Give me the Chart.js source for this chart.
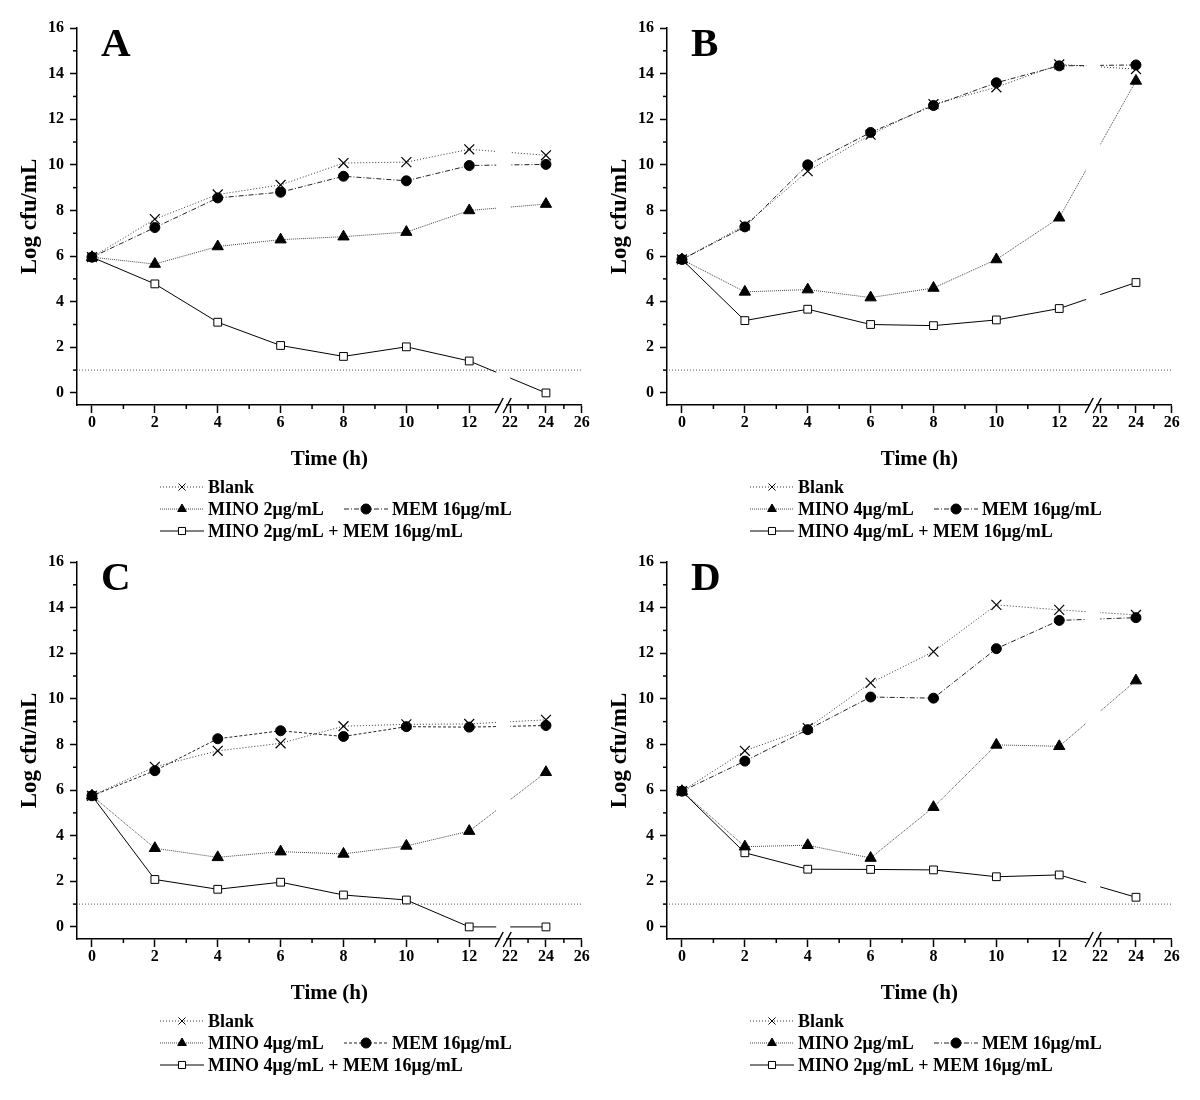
<!DOCTYPE html>
<html>
<head>
<meta charset="utf-8">
<script src="https://cdn.jsdelivr.net/npm/chart.js@4.4.1/dist/chart.umd.min.js"></script>
<style>
  body { margin: 0; background: #fff; }
  #page { position: relative; width: 1200px; height: 1100px; background: #fff; }
  .panel { position: absolute; width: 590px; height: 560px; }
</style>
</head>
<body>
<div id="page">
  <div class="panel" style="left:0;top:0"><canvas id="chartA"></canvas></div>
  <div class="panel" style="left:590px;top:0"><canvas id="chartB"></canvas></div>
  <div class="panel" style="left:0;top:534px"><canvas id="chartC"></canvas></div>
  <div class="panel" style="left:590px;top:534px"><canvas id="chartD"></canvas></div>
</div>
<script>
// sampling times (h) and axis ticks
const times = [0, 2, 4, 6, 8, 10, 12, 24];
const xTickValues = [0, 2, 4, 6, 8, 10, 12, 22, 24, 26];
const xMinorValues = [1, 3, 5, 7, 9, 11, 23, 25];
const yTickValues = [0, 2, 4, 6, 8, 10, 12, 14, 16];
const yMinorValues = [1, 3, 5, 7, 9, 11, 13, 15];
const limitValue = 1;

// panel A
const blankA = [5.95, 7.62, 8.70, 9.12, 10.08, 10.12, 10.68, 10.42];
const minoA  = [5.95, 5.65, 6.42, 6.72, 6.85, 7.05, 8.00, 8.28];
const memA   = [5.95, 7.25, 8.55, 8.80, 9.50, 9.30, 9.97, 10.02];
const comboA = [5.95, 4.78, 3.10, 2.08, 1.60, 2.02, 1.40, 0];
// panel B
const blankB = [5.85, 7.35, 9.72, 11.32, 12.66, 13.40, 14.40, 14.20];
const minoB  = [5.85, 4.43, 4.53, 4.18, 4.60, 5.85, 7.68, 13.68];
const memB   = [5.85, 7.28, 10.00, 11.42, 12.60, 13.60, 14.34, 14.38];
const comboB = [5.85, 3.17, 3.67, 3.00, 2.95, 3.20, 3.70, 4.84];
// panel C
const blankC = [5.75, 7.02, 7.72, 8.05, 8.80, 8.88, 8.90, 9.08];
const minoC  = [5.75, 3.45, 3.05, 3.30, 3.20, 3.55, 4.20, 6.78];
const memC   = [5.75, 6.85, 8.25, 8.60, 8.35, 8.78, 8.76, 8.83];
const comboC = [5.75, 2.08, 1.65, 1.96, 1.40, 1.18, 0, 0];
// panel D
const blankD = [5.95, 7.72, 8.72, 10.70, 12.07, 14.12, 13.90, 13.68];
const minoD  = [5.95, 3.52, 3.58, 3.02, 5.25, 7.98, 7.92, 10.80];
const memD   = [5.95, 7.27, 8.65, 10.08, 10.03, 12.20, 13.44, 13.56];
const comboD = [5.95, 3.25, 2.53, 2.52, 2.50, 2.20, 2.28, 1.30];

const panelLetters = ['A', 'B', 'C', 'D'];
const minoLabels = ['MINO 2\u03bcg/mL', 'MINO 4\u03bcg/mL', 'MINO 4\u03bcg/mL', 'MINO 2\u03bcg/mL'];
const memLabel = 'MEM 16\u03bcg/mL';

const FONT = '"Liberation Serif", "Times New Roman", serif';

// broken time axis: 0-12 h at full scale, then 22-26 h compressed
let axisPos = (t) => (t <= 12 ? t : 12 + 1.3 + (t - 22) * 0.57);
const breakAt = 13.08;

let toPoints = (vals) => vals.map((v, i) => ({ x: axisPos(times[i]), y: v }));

const extras = {
  id: 'extras',
  afterDatasetsDraw(chart, args, opts) {
    const { ctx, chartArea: a, scales: { x, y } } = chart;
    const bx = x.getPixelForValue(breakAt);
    ctx.save();
    // gap in the curves at the break
    ctx.fillStyle = '#fff';
    ctx.fillRect(bx - 7, a.top, 14, a.bottom - a.top - 1);
    // detection limit
    const ly = y.getPixelForValue(limitValue);
    ctx.strokeStyle = '#555';
    ctx.lineWidth = 1;
    ctx.setLineDash([1, 2]);
    ctx.beginPath();
    ctx.moveTo(a.left + 2, ly);
    ctx.lineTo(a.right, ly);
    ctx.stroke();
    // axis break marks
    ctx.setLineDash([]);
    ctx.fillRect(bx - 3, a.bottom - 3, 6, 6);
    ctx.strokeStyle = '#000';
    ctx.lineWidth = 1.5;
    [-4, 4].forEach((dx) => {
      ctx.beginPath();
      ctx.moveTo(bx + dx - 4, a.bottom + 8);
      ctx.lineTo(bx + dx + 4, a.bottom - 7);
      ctx.stroke();
    });
    ctx.restore();
  },
  afterDraw(chart, args, opts) {
    const { ctx, chartArea: a, scales: { x, y } } = chart;
    ctx.save();
    // minor ticks
    ctx.strokeStyle = '#000';
    ctx.lineWidth = 1.5;
    xMinorValues.forEach((t) => {
      const px = x.getPixelForValue(axisPos(t));
      ctx.beginPath();
      ctx.moveTo(px, a.bottom);
      ctx.lineTo(px, a.bottom + 4);
      ctx.stroke();
    });
    yMinorValues.forEach((v) => {
      const py = y.getPixelForValue(v);
      ctx.beginPath();
      ctx.moveTo(a.left, py);
      ctx.lineTo(a.left - 4, py);
      ctx.stroke();
    });
    // panel letter
    ctx.fillStyle = '#000';
    ctx.font = 'bold 41px ' + FONT;
    ctx.textBaseline = 'alphabetic';
    ctx.fillText(opts.letter, 101, 56);
    // legend
    ctx.font = 'bold 18px ' + FONT;
    ctx.textBaseline = 'middle';
    chart.data.datasets.forEach((ds, i) => {
      const slot = opts.slots[i];
      const x0 = opts.colX[slot.col];
      const y0 = opts.rowY[slot.row];
      ctx.strokeStyle = ds.borderColor;
      ctx.lineWidth = ds.borderWidth;
      ctx.setLineDash(ds.borderDash);
      ctx.beginPath();
      ctx.moveTo(x0, y0);
      ctx.lineTo(x0 + 44, y0);
      ctx.stroke();
      ctx.setLineDash([]);
      ctx.fillStyle = ds.pointBackgroundColor;
      ctx.strokeStyle = ds.pointBorderColor;
      ctx.lineWidth = 1;
      Chart.helpers.drawPoint(ctx, { pointStyle: ds.pointStyle, radius: 5, rotation: 0, borderWidth: 1 }, x0 + 22, y0);
      ctx.fillStyle = '#000';
      ctx.fillText(ds.label, x0 + 48, y0 + 1);
    });
    ctx.restore();
  }
};

let makePanel = (id, idx, blank, mino, mem, combo, memDash) => {
  const ctx = document.getElementById(id);
  const dataset = {
    datasets: [
      {
        label: 'Blank',
        data: toPoints(blank),
        borderColor: '#333', borderWidth: 1, borderDash: [1, 2],
        pointStyle: 'crossRot', pointRadius: 7, pointBorderWidth: 1.2,
        pointBorderColor: '#000', pointBackgroundColor: '#000'
      },
      {
        label: minoLabels[idx],
        data: toPoints(mino),
        borderColor: '#444', borderWidth: 1, borderDash: [1, 1],
        pointStyle: 'triangle', pointRadius: 6.5, pointBorderWidth: 1,
        pointBorderColor: '#000', pointBackgroundColor: '#000'
      },
      {
        label: memLabel,
        data: toPoints(mem),
        borderColor: '#222', borderWidth: 1, borderDash: memDash,
        pointStyle: 'circle', pointRadius: 5, pointBorderWidth: 1,
        pointBorderColor: '#000', pointBackgroundColor: '#000'
      },
      {
        label: minoLabels[idx] + ' + ' + memLabel,
        data: toPoints(combo),
        borderColor: '#000', borderWidth: 1, borderDash: [],
        pointStyle: 'rect', pointRadius: 5.5, pointBorderWidth: 1,
        pointBorderColor: '#000', pointBackgroundColor: '#fff'
      }
    ]
  };
  const config = {
    type: 'line',
    data: dataset,
    plugins: [extras],
    options: {
      maintainAspectRatio: false,
      responsive: true,
      animation: false,
      layout: { padding: { left: 0, top: 28, right: 7, bottom: 88 } },
      plugins: {
        legend: { display: false },
        tooltip: { enabled: false },
        extras: {
          letter: panelLetters[idx],
          slots: [{ row: 0, col: 0 }, { row: 1, col: 0 }, { row: 1, col: 1 }, { row: 2, col: 0 }],
          colX: [160, 344],
          rowY: [487, 509, 531]
        }
      },
      scales: {
        x: {
          type: 'linear',
          min: -0.476,
          max: axisPos(26),
          afterBuildTicks: (scale) => { scale.ticks = xTickValues.map((t) => ({ value: axisPos(t) })); },
          afterFit: (scale) => { scale.height = 67; },
          ticks: {
            autoSkip: false, maxRotation: 0, padding: 0, color: '#000',
            font: { family: FONT, size: 16, weight: 'bold' },
            callback: (v, i) => xTickValues[i]
          },
          grid: { drawOnChartArea: false, drawTicks: true, tickLength: 8, color: '#000', tickWidth: 1.5 },
          border: { display: true, color: '#000', width: 1.5 },
          title: {
            display: true, text: 'Time (h)', color: '#000',
            font: { family: FONT, size: 21, weight: 'bold' },
            padding: { top: 0, bottom: 0 }
          }
        },
        y: {
          type: 'linear',
          min: -0.53,
          max: 16,
          afterBuildTicks: (scale) => { scale.ticks = yTickValues.map((v) => ({ value: v })); },
          afterFit: (scale) => { scale.width = 77; },
          ticks: {
            padding: 6, color: '#000',
            font: { family: FONT, size: 16, weight: 'bold' },
            callback: (v) => v
          },
          grid: { drawOnChartArea: false, drawTicks: true, tickLength: 7, color: '#000', tickWidth: 1.5 },
          border: { display: true, color: '#000', width: 1.5 },
          title: {
            display: true, text: 'Log cfu/mL', color: '#000',
            font: { family: FONT, size: 23, weight: 'bold' },
            padding: { top: 16, bottom: 0 }
          }
        }
      }
    }
  };
  const chart = new Chart(ctx, config);
};

makePanel('chartA', 0, blankA, minoA, memA, comboA, [5, 2, 1, 2]);
makePanel('chartB', 1, blankB, minoB, memB, comboB, [5, 2, 1, 2]);
makePanel('chartC', 2, blankC, minoC, memC, comboC, [3, 2]);
makePanel('chartD', 3, blankD, minoD, memD, comboD, [5, 2, 1, 2]);
</script>
</body>
</html>
